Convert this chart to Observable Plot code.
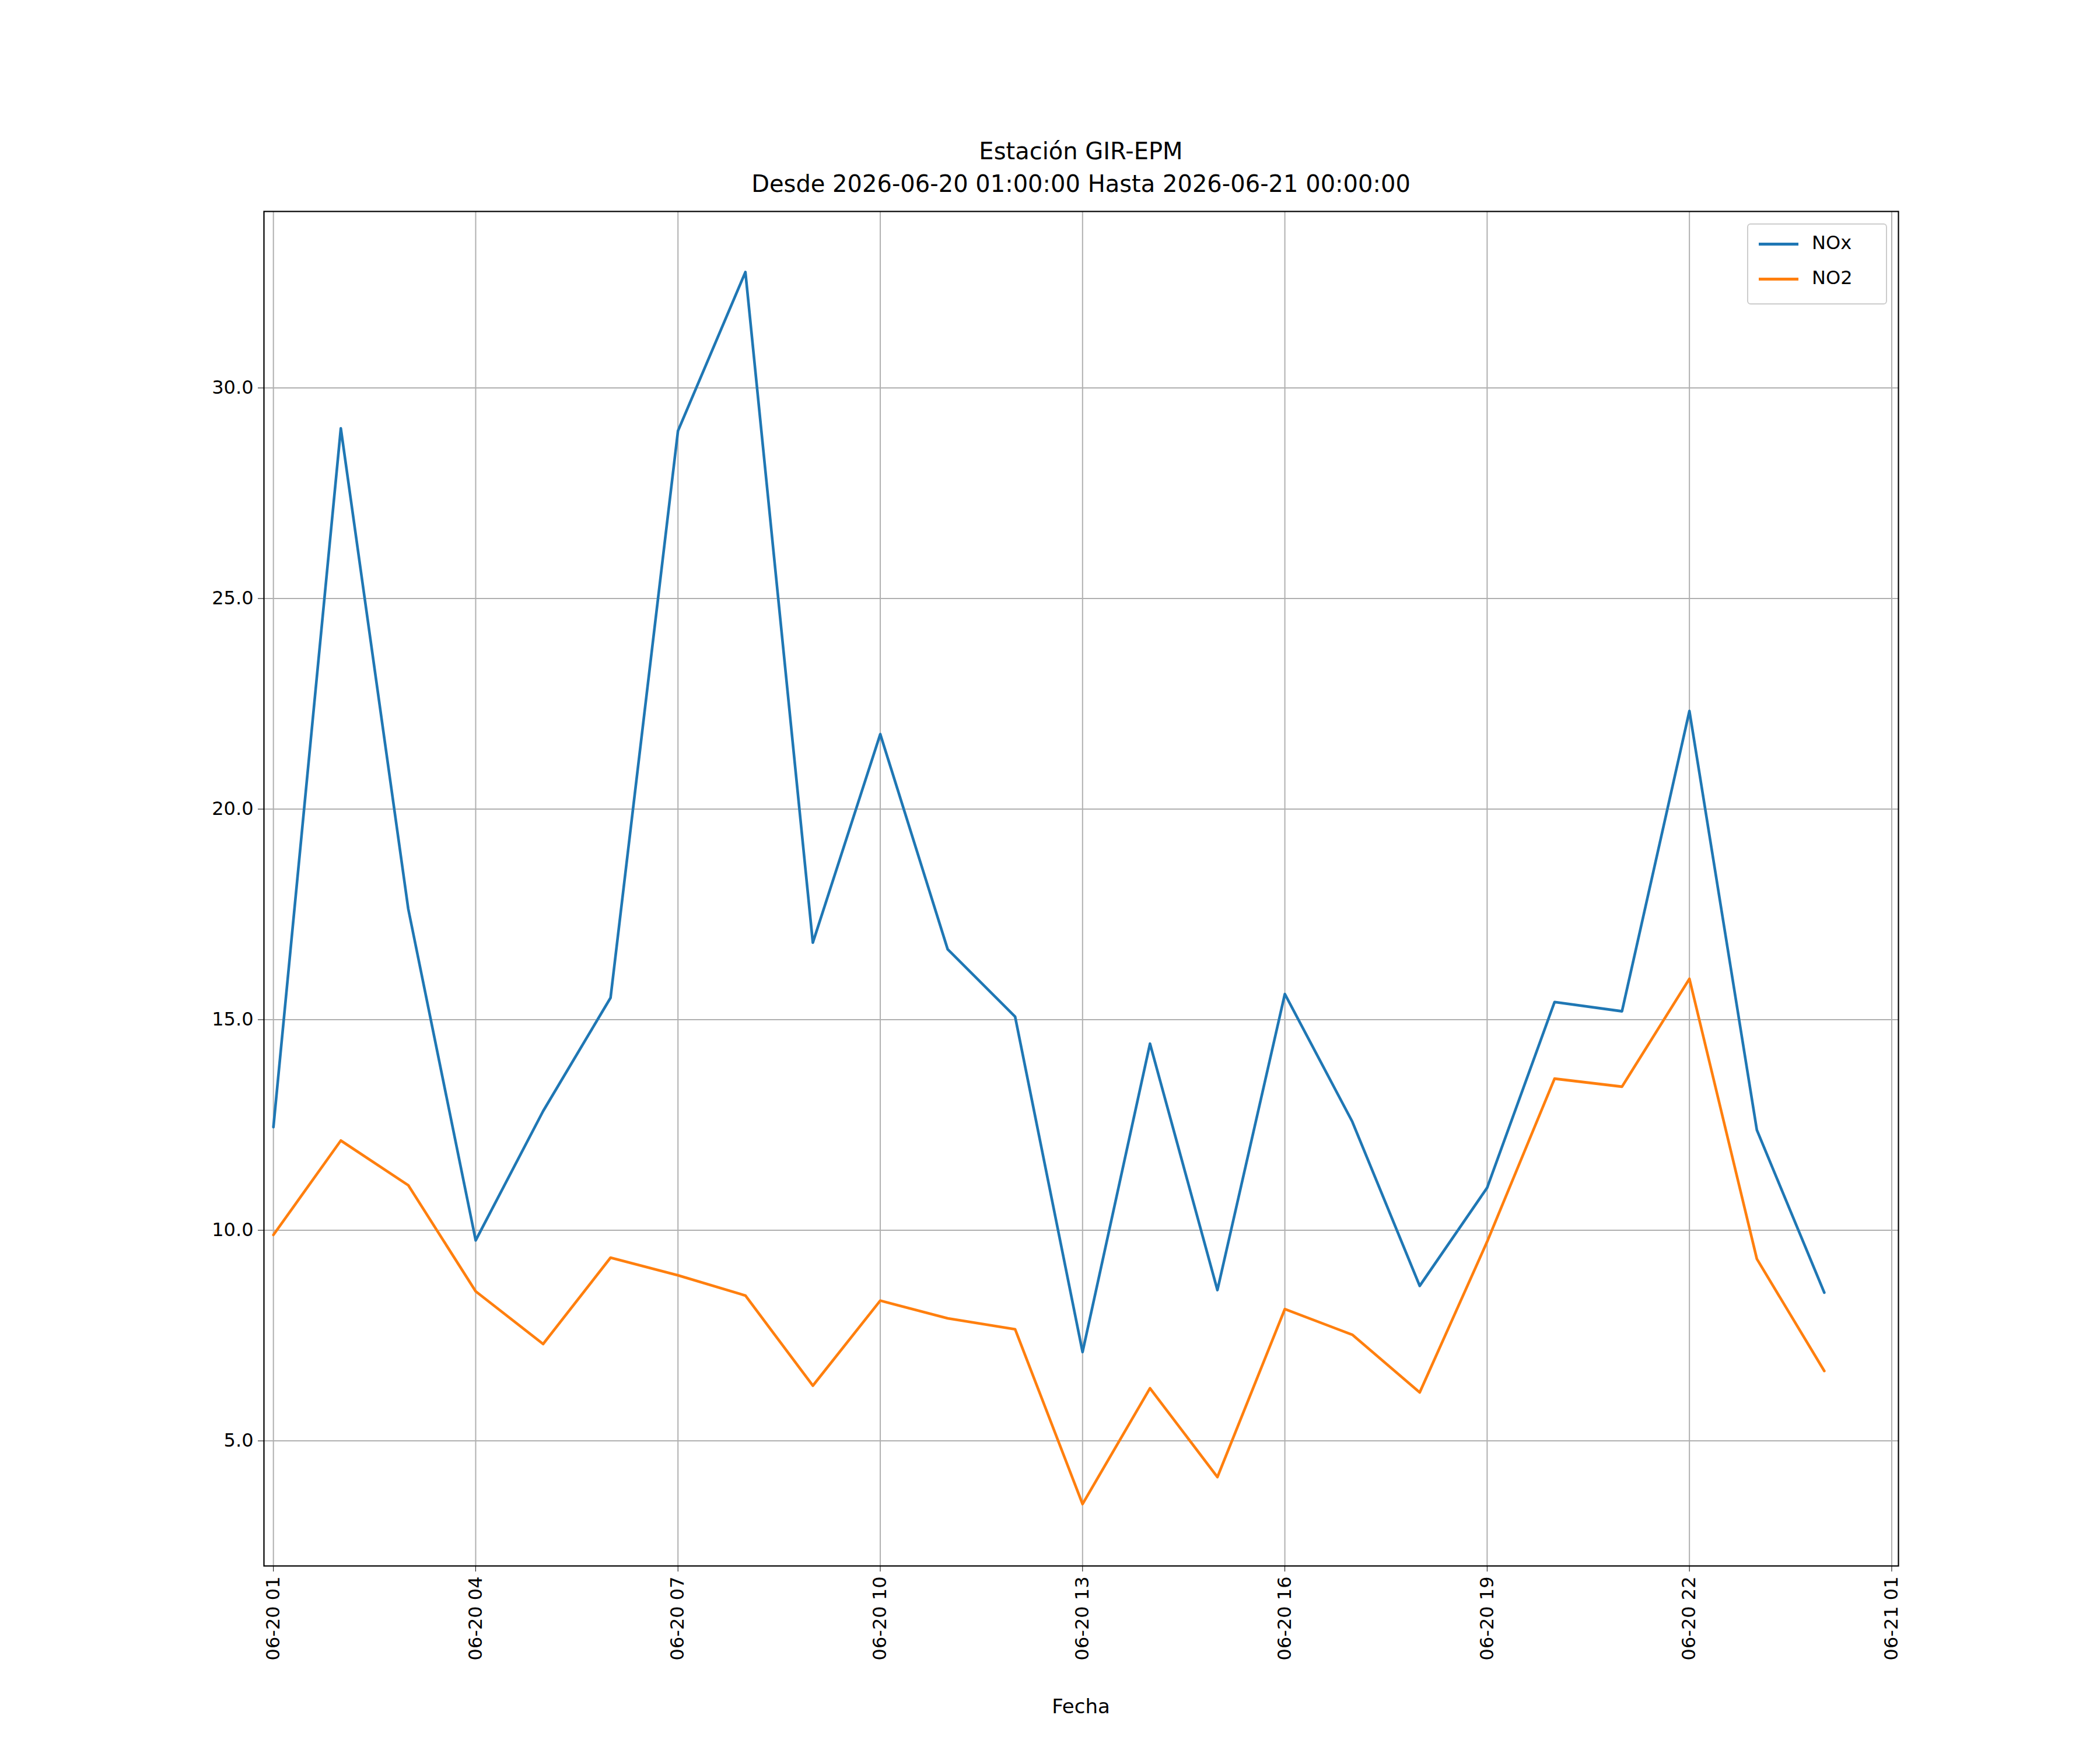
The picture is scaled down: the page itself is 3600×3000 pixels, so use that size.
<!DOCTYPE html>
<html><head><meta charset="utf-8">
<script src="https://cdn.jsdelivr.net/npm/d3@7"></script>
<script src="https://cdn.jsdelivr.net/npm/@observablehq/plot@0.6"></script>
<style>body{margin:0;background:#fff;font-family:"DejaVu Sans",sans-serif}
#wrap{position:relative;width:3600px;height:3000px}
</style></head><body>
<div id="wrap"></div>
<script>
const hours = d3.range(1, 25);
const nox = [12.45,29.04,17.63,9.76,12.83,15.52,28.98,32.75,16.83,21.78,16.67,15.07,7.11,14.43,8.58,15.61,12.58,8.68,11.01,15.42,15.20,22.33,12.38,8.52];
const no2 = [9.89,12.13,11.07,8.55,7.30,9.35,8.93,8.45,6.31,8.33,7.91,7.65,3.50,6.25,4.14,8.13,7.52,6.15,9.73,13.60,13.41,15.97,9.32,6.66];
const xTicks = [1,4,7,10,13,16,19,22,25];
const xTickLabels = ["06-20 01","06-20 04","06-20 07","06-20 10","06-20 13","06-20 16","06-20 19","06-20 22","06-21 01"];
const yTicks = [5,10,15,20,25,30];
const series = [{name:"NOx", color:"#1f77b4", vals:nox},{name:"NO2", color:"#ff7f0e", vals:no2}];
const data = series.flatMap(s => hours.map((h,i)=>({h, v:s.vals[i], s:s.name})));
const fmt = d => xTickLabels[xTicks.indexOf(d)];

const plot = Plot.plot({
  width:3600, height:3000,
  marginLeft:452, marginRight:346, marginTop:362, marginBottom:316,
  style:{fontFamily:"DejaVu Sans", fontSize:"32px", color:"#000", background:"transparent"},
  x:{type:"linear", domain:[0.86,25.1], range:[452,3254], nice:false, axis:null},
  y:{type:"linear", domain:[2.03,34.19], nice:false, axis:null},
  color:{domain:series.map(s=>s.name), range:series.map(s=>s.color)},
  marks:[
    Plot.gridX(xTicks,{stroke:"#b0b0b0", strokeOpacity:1, strokeWidth:2}),
    Plot.gridY(yTicks,{stroke:"#b0b0b0", strokeOpacity:1, strokeWidth:2}),
    Plot.line(data,{x:"h", y:"v", z:"s", stroke:"s", strokeWidth:4.6}),
    Plot.frame({stroke:"#000", strokeWidth:2.2}),
    Plot.axisX(xTicks,{tickFormat:fmt, tickRotate:-90, tickSize:10, tickPadding:8, label:null, fontSize:32}),
    Plot.axisY(yTicks,{tickSize:10, tickPadding:8, label:null, fontSize:32})
  ]
});
const wrap = document.getElementById("wrap");
wrap.appendChild(plot);
plot.style.position="absolute"; plot.style.left="0"; plot.style.top="0";
function addDiv(html, css){const d=document.createElement("div");d.innerHTML=html;d.style.cssText=css;wrap.appendChild(d);}
addDiv("Estación GIR-EPM","position:absolute;left:0;width:3706px;text-align:center;top:236px;font-size:40px;");
addDiv("Desde 2026-06-20 01:00:00 Hasta 2026-06-21 00:00:00","position:absolute;left:0;width:3706px;text-align:center;top:292px;font-size:40px;");
addDiv("Fecha","position:absolute;left:0;width:3706px;text-align:center;top:2905px;font-size:34px;");
let leg = `<div style="position:absolute;left:2995px;top:383px;width:240px;height:139px;border:2px solid #ccc;border-radius:6px;background:#fff;box-sizing:border-box"></div>`;
series.forEach((s,i)=>{
  leg += `<div style="position:absolute;left:3015px;top:${416+i*60}px;width:68px;height:5px;background:${s.color}"></div>`;
  leg += `<div style="position:absolute;left:3106px;top:${397+i*60}px;font-size:32px">${s.name}</div>`;
});
addDiv(leg,"");
</script></body></html>
